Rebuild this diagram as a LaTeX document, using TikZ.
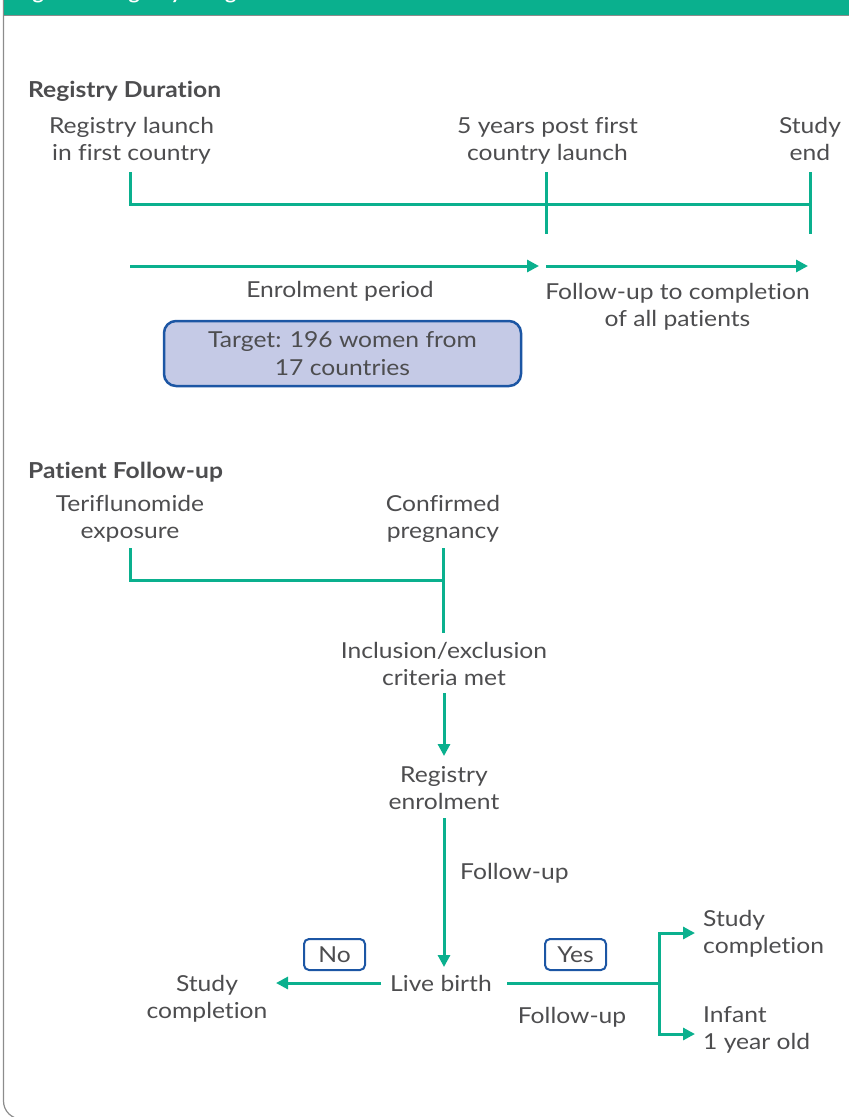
\documentclass[tikz,border=0pt]{standalone}
\usepackage{fontspec}
\setmainfont{Lato}[FakeStretch=1.12, Ligatures=NoCommon]
\usetikzlibrary{arrows.meta}
\definecolor{tgreen}{RGB}{10,176,142}
\definecolor{tgrey}{RGB}{77,77,79}
\definecolor{boxfill}{RGB}{197,202,230}
\definecolor{bblue}{RGB}{28,86,164}
\definecolor{fgrey}{RGB}{140,140,140}
\begin{document}
\begin{tikzpicture}[x=1pt,y=-1pt,
  txt/.style={text=tgrey, font=\fontsize{22}{27.5}\selectfont, align=center, inner sep=0pt},
  hdr/.style={text=tgrey, font=\fontsize{22}{27.5}\selectfont\bfseries, anchor=base west, inner sep=0pt},
  gline/.style={draw=tgreen, line width=3pt},
  arr/.style={draw=tgreen, line width=3pt, -{Triangle[length=12pt,width=12pt]}},
  ynbox/.style={txt, draw=bblue, fill=white, line width=2pt, rounded corners=5pt, minimum width=61pt, minimum height=31pt},
  tgtbox/.style={txt, draw=bblue, fill=boxfill, line width=2.5pt, rounded corners=12pt, minimum width=357pt, minimum height=65pt},
]
\useasboundingbox (0,0) rectangle (849,1117);
\begin{scope}
  \clip (0,0) rectangle (849,1117);
  \draw[fgrey, line width=1.2pt, rounded corners=18pt] (3.5,-40) rectangle (900,1119);
  \filldraw[fill=tgreen, draw=fgrey, line width=0.6pt] (3.5,-10) rectangle (860,15);
  \node[font=\fontsize{19}{24}\selectfont\bfseries, text=white, anchor=base west, inner sep=0pt] (title) at (15,-1) {Figure 1. Registry design};
\end{scope}

% ---------- Registry Duration ----------
\node[hdr] (rdhead) at (28,97) {Registry Duration};
\node[txt, anchor=north] (launch) at (131.5,117) {Registry launch\\in first country};
\node[txt, anchor=north] (fiveyr) at (547.5,117) {5 years post first\\country launch};
\node[txt, anchor=north] (send) at (810,117) {Study\\end};

\coordinate (a0) at (130,172);
\coordinate (a1) at (130,204);
\coordinate (b0) at (546,172);
\coordinate (b1) at (546,234);
\coordinate (c0) at (810,172);
\coordinate (c1) at (810,234);
\draw[gline] (a0) -- (a1) -- (a1 -| c0);
\draw[gline] (b0) -- (b1);
\draw[gline] (c0) -- (c1);

\coordinate (e0) at (130,266);
\coordinate (e1) at (539,266);
\coordinate (f0) at (546,266);
\coordinate (f1) at (808,266);
\draw[arr] (e0) -- (e1);
\draw[arr] (f0) -- (f1);

\node[txt, anchor=base] (enrper) at (340,297) {Enrolment period};
\node[txt, anchor=north] (fupall) at (677.5,283) {Follow-up to completion\\of all patients};
\node[tgtbox] (target) at (342.5,353.5) {Target: 196 women from\\17 countries};

% ---------- Patient Follow-up ----------
\node[hdr] (pfhead) at (28,478) {Patient Follow-up};
\node[txt, anchor=north] (teri) at (130,495) {Teriflunomide\\exposure};
\node[txt, anchor=north] (preg) at (443,495) {Confirmed\\pregnancy};

\coordinate (t0) at (130,548);
\coordinate (p0) at (443,548);
\coordinate (pj) at (443,580);
\coordinate (p1) at (443,633);
\draw[gline] (t0) |- (pj);
\draw[gline] (p0) -- (p1);

\node[txt, anchor=north] (incl) at (444,642) {Inclusion/exclusion\\criteria met};
\node[txt, anchor=north] (enrol) at (444,766) {Registry\\enrolment};
\draw[arr] (incl.south |- 0,693) -- (incl.south |- 0,756);
\draw[arr] (enrol.south |- 0,818) -- (enrol.south |- 0,967);
\node[txt, anchor=base west] (fup1) at (460,879) {Follow-up};

\node[txt, anchor=base] (live) at (441,991) {Live birth};
\node[ynbox] (no) at (334.5,954.5) {No};
\node[ynbox] (yes) at (575.5,954.5) {Yes};
\node[txt, anchor=north] (scl) at (207,975) {Study\\completion};
\node[txt, anchor=base] (fup2) at (572,1023) {Follow-up};
\node[txt, anchor=north west, align=left] (scr) at (703,910) {Study\\completion};
\node[txt, anchor=north west, align=left] (inf) at (703,1006) {Infant\\1 year old};

\coordinate (lw) at (381,983);
\coordinate (lt) at (276,983);
\draw[arr] (lw) -- (lt);
\coordinate (rw) at (507,983);
\coordinate (br) at (659,983);
\coordinate (bu) at (659,933);
\coordinate (bd) at (659,1034);
\draw[gline] (rw) -- (br);
\draw[arr] (br) -- (bu) -- (695,933);
\draw[arr] (br) -- (bd) -- (695,1034);
\end{tikzpicture}
\end{document}
